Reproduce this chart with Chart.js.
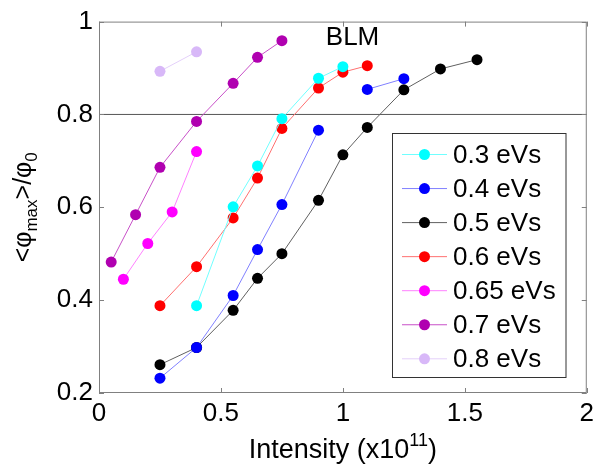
<!DOCTYPE html>
<html>
<head>
<meta charset="utf-8">
<script src="https://cdn.jsdelivr.net/npm/chart.js@4.4.0/dist/chart.umd.min.js"></script>
<style>
  html, body { margin: 0; padding: 0; background: #fff; }
  #wrap { width: 599px; height: 468px; }
</style>
</head>
<body>
<div id="wrap"><canvas id="chart" width="599" height="468"></canvas></div>
<script>
// series labels
const seriesNames = ['0.3 eVs', '0.4 eVs', '0.5 eVs', '0.6 eVs', '0.65 eVs', '0.7 eVs', '0.8 eVs'];

// intensity (x1e11) and <phi_max>/phi_0 for each spread
const int03 = [0.4, 0.55, 0.65, 0.75, 0.9, 1.0];
const phi03 = [0.388, 0.601, 0.689, 0.791, 0.878, 0.903];

const int04 = [0.25, 0.4, 0.55, 0.65, 0.75, 0.9, 1.0, 1.1, 1.25];
const phi04 = [0.232, 0.298, 0.41, 0.509, 0.606, 0.766, null, 0.854, 0.877];

const int05 = [0.25, 0.4, 0.55, 0.65, 0.75, 0.9, 1.0, 1.1, 1.25, 1.4, 1.55];
const phi05 = [0.261, 0.298, 0.378, 0.447, 0.5, 0.615, 0.713, 0.772, 0.853, 0.898, 0.918];

const int06 = [0.25, 0.4, 0.55, 0.65, 0.75, 0.9, 1.0, 1.1];
const phi06 = [0.388, 0.472, 0.577, 0.663, 0.77, 0.857, 0.891, 0.905];

const int065 = [0.1, 0.2, 0.3, 0.4];
const phi065 = [0.445, 0.522, 0.59, 0.72];

const int07 = [0.05, 0.15, 0.25, 0.4, 0.55, 0.65, 0.75];
const phi07 = [0.482, 0.584, 0.686, 0.785, 0.867, 0.923, 0.959];

const int08 = [0.25, 0.4];
const phi08 = [0.893, 0.935];

// reference level
const refX = [0, 2];
const refY = [0.8, 0.8];

// axis ticks
const xTicks = [0, 0.5, 1, 1.5, 2];
const yTicks = [0.2, 0.4, 0.6, 0.8, 1];

const markerColors = ['#00ffff', '#0000ff', '#000000', '#ff0000', '#ff00ff', '#b000b0', '#d8b8f8'];
const lineColors = ['#70ffff', '#8080ff', '#606060', '#ff7070', '#ff80ff', '#c850c8', '#e4d0fa'];

const allX = [int03, int04, int05, int06, int065, int07, int08];
const allY = [phi03, phi04, phi05, phi06, phi065, phi07, phi08];

function toPoints(xs, ys) {
    return xs.map((v, i) => ({ x: v, y: ys[i] }));
}

const datasets = seriesNames.map((name, i) => ({
    label: name,
    data: toPoints(allX[i], allY[i]),
    borderColor: lineColors[i],
    backgroundColor: markerColors[i],
    pointBackgroundColor: markerColors[i],
    pointBorderWidth: 0,
    pointRadius: 5.5,
    borderWidth: 1,
    showLine: true,
    spanGaps: false,
    order: 1
}));

datasets.push({
    label: 'ref',
    data: toPoints(refX, refY),
    borderColor: '#555555',
    borderWidth: 1,
    pointRadius: 0,
    showLine: true,
    order: 10
});

const FONT = '"Liberation Sans", Arial, sans-serif';

// draws text pieces with sub/superscripts, centred on 0
function drawRich(ctx, parts) {
    let total = 0;
    parts.forEach(p => {
        ctx.font = p.size + 'px ' + FONT;
        p.w = ctx.measureText(p.t).width;
        total += p.w;
    });
    let x = -total / 2;
    parts.forEach(p => {
        ctx.font = p.size + 'px ' + FONT;
        ctx.fillText(p.t, x, p.dy);
        x += p.w;
    });
}

const decorPlugin = {
    id: 'decor',
    afterDraw(chart) {
        const ctx = chart.ctx;
        const a = chart.chartArea;
        const xs = chart.scales.x, ys = chart.scales.y;
        ctx.save();

        // axes box + inward ticks
        ctx.strokeStyle = '#808080';
        ctx.lineWidth = 1;
        ctx.strokeRect(a.left + 0.5, a.top + 0.5, a.right - a.left - 1, a.bottom - a.top - 1);
        ctx.beginPath();
        xTicks.forEach(v => {
            const px = Math.round(xs.getPixelForValue(v)) + 0.5;
            ctx.moveTo(px, a.bottom); ctx.lineTo(px, a.bottom - 5);
            ctx.moveTo(px, a.top); ctx.lineTo(px, a.top + 5);
        });
        yTicks.forEach(v => {
            const py = Math.round(ys.getPixelForValue(v)) + 0.5;
            ctx.moveTo(a.left, py); ctx.lineTo(a.left + 5, py);
            ctx.moveTo(a.right, py); ctx.lineTo(a.right - 5, py);
        });
        ctx.stroke();

        ctx.fillStyle = '#000';
        ctx.textBaseline = 'alphabetic';
        ctx.textAlign = 'left';

        // x title
        ctx.save();
        ctx.translate((a.left + a.right) / 2, 458);
        drawRich(ctx, [
            { t: 'Intensity (x10', size: 27, dy: 0 },
            { t: '11', size: 18, dy: -12 },
            { t: ')', size: 27, dy: 0 }
        ]);
        ctx.restore();

        // y title
        ctx.save();
        ctx.translate(31, (a.top + a.bottom) / 2);
        ctx.rotate(-Math.PI / 2);
        drawRich(ctx, [
            { t: '<\u03c6', size: 25, dy: 0 },
            { t: 'max', size: 17, dy: 6 },
            { t: '>/\u03c6', size: 25, dy: 0 },
            { t: '0', size: 17, dy: 6 }
        ]);
        ctx.restore();

        // annotation
        ctx.font = '26px ' + FONT;
        ctx.fillText('BLM', xs.getPixelForValue(0.93), ys.getPixelForValue(0.949));

        // legend
        const bx = 392.5, by = 133.5, bw = 173.5, bh = 244;
        ctx.fillStyle = '#fff';
        ctx.fillRect(bx, by, bw, bh);
        ctx.strokeStyle = '#333';
        ctx.strokeRect(bx, by, bw, bh);
        ctx.font = '26px ' + FONT;
        ctx.textBaseline = 'middle';
        seriesNames.forEach((name, i) => {
            const cy = 154.5 + i * 34.05;
            ctx.strokeStyle = lineColors[i];
            ctx.beginPath();
            ctx.moveTo(402, cy); ctx.lineTo(447, cy);
            ctx.stroke();
            ctx.fillStyle = markerColors[i];
            ctx.beginPath();
            ctx.arc(424.5, cy, 5.5, 0, Math.PI * 2);
            ctx.fill();
            ctx.fillStyle = '#000';
            ctx.fillText(name, 453, cy + 1);
        });
        ctx.restore();
    }
};

const fmt = v => String(+v.toFixed(2));

new Chart(document.getElementById('chart'), {
    type: 'scatter',
    data: { datasets: datasets },
    options: {
        responsive: false,
        animation: false,
        devicePixelRatio: 1,
        layout: { padding: { top: 19, right: 12, left: 0, bottom: 0 } },
        plugins: {
            legend: { display: false },
            tooltip: { enabled: false }
        },
        scales: {
            x: {
                type: 'linear',
                min: 0, max: 2,
                afterBuildTicks: s => { s.ticks = xTicks.map(v => ({ value: v })); },
                afterFit: s => { s.height = 75; },
                grid: { display: false, drawTicks: false },
                border: { display: false },
                ticks: { callback: fmt, color: '#000', padding: 5, maxRotation: 0, font: { size: 26, family: FONT } }
            },
            y: {
                type: 'linear',
                min: 0.2, max: 1,
                afterBuildTicks: s => { s.ticks = yTicks.map(v => ({ value: v })); },
                afterFit: s => { s.width = 99; },
                grid: { display: false, drawTicks: false },
                border: { display: false },
                ticks: { callback: fmt, color: '#000', padding: 6, font: { size: 26, family: FONT } }
            }
        }
    },
    plugins: [decorPlugin]
});
</script>
</body>
</html>
